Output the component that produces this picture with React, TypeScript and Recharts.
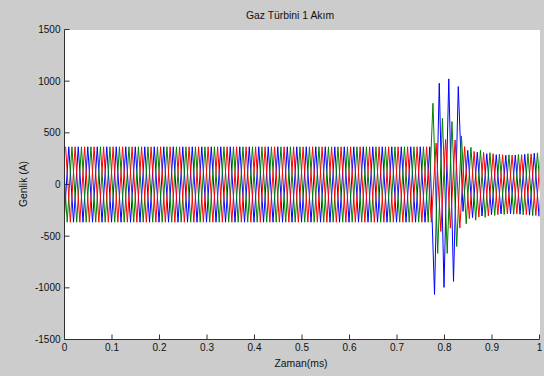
import React from 'react';
import { LineChart, Line, XAxis, YAxis } from 'recharts';

const xTicks = [0, 0.1, 0.2, 0.3, 0.4, 0.5, 0.6, 0.7, 0.8, 0.9, 1];
const yTicks = [-1500, -1000, -500, 0, 500, 1000, 1500];
const titleText = 'Gaz Türbini 1 Akım';
const xLabelText = 'Zaman(ms)';
const yLabelText = 'Genlik (A)';

// Peak magnitudes of each half-cycle (k = -1 .. 100).
const blueMag = [
  365, 365, 365, 365, 365, 365, 365, 365, 365, 365, 365, 365, 365,
  365, 365, 365, 365, 365, 365, 365, 365, 365, 365, 365, 365, 365,
  365, 365, 365, 365, 365, 365, 365, 365, 365, 365, 365, 365, 365,
  365, 365, 365, 365, 365, 365, 365, 365, 365, 365, 365, 365, 365,
  365, 365, 365, 365, 365, 365, 365, 365, 365, 365, 365, 365, 365,
  365, 365, 365, 365, 365, 365, 365, 365, 365, 365, 365, 365, 365,
  1064, 980, 996, 1022, 938, 948, 260, 330,
  320, 312, 305, 298, 292, 288, 285, 283, 283, 285, 288, 292, 297, 302, 307, 312,
];
const greenMag = [
  365, 365, 365, 365, 365, 365, 365, 365, 365, 365, 365, 365, 365,
  365, 365, 365, 365, 365, 365, 365, 365, 365, 365, 365, 365, 365,
  365, 365, 365, 365, 365, 365, 365, 365, 365, 365, 365, 365, 365,
  365, 365, 365, 365, 365, 365, 365, 365, 365, 365, 365, 365, 365,
  365, 365, 365, 365, 365, 365, 365, 365, 365, 365, 365, 365, 365,
  365, 365, 365, 365, 365, 365, 365, 365, 365, 365, 365, 365, 365,
  786, 667, 641, 667, 609, 600, 470, 380,
  360, 345, 330, 318, 308, 300, 294, 290, 288, 288, 290, 294, 298, 302, 306, 310,
];
const redMag = [
  365, 365, 365, 365, 365, 365, 365, 365, 365, 365, 365, 365, 365,
  365, 365, 365, 365, 365, 365, 365, 365, 365, 365, 365, 365, 365,
  365, 365, 365, 365, 365, 365, 365, 365, 365, 365, 365, 365, 365,
  365, 365, 365, 365, 365, 365, 365, 365, 365, 365, 365, 365, 365,
  365, 365, 365, 365, 365, 365, 365, 365, 365, 365, 365, 365, 365,
  365, 365, 365, 365, 365, 365, 365, 365, 365, 365, 365, 365, 365,
  400, 455, 435, 423, 430, 420, 367, 330,
  320, 315, 310, 304, 298, 292, 288, 285, 284, 285, 288, 292, 296, 300, 305, 310,
];

const FIRST_K = -1;
const FIRST_PEAK = 0.009;
const HALF_PERIOD = 0.01;
const PHASE_SHIFT = 0.01 / 3;

function buildSeries(mags: number[], shift: number, flip: number) {
  return mags.map((m, i) => {
    const k = FIRST_K + i;
    const sign = Math.abs(k) % 2 === 0 ? 1 : -1;
    return { t: FIRST_PEAK + HALF_PERIOD * k + shift, v: flip * sign * m };
  });
}

const blueData = buildSeries(blueMag, 0, 1);
const greenData = buildSeries(greenMag, -PHASE_SHIFT, -1);
const redData = buildSeries(redMag, PHASE_SHIFT, -1);

const FONT = "'Liberation Sans', Arial, Helvetica, sans-serif";
const AXIS = '#303030';
const W = 544;
const H = 376;

export default function App() {
  const tickStyle = { fill: '#111', fontSize: 10, fontFamily: FONT };
  return (
    <div style={{ position: 'absolute', left: 0, top: 0, width: W, height: H, background: '#cccccc', overflow: 'hidden' }}>
      <div style={{ position: 'absolute', left: 64.5, top: 29.5, width: 475, height: 310, background: '#ffffff' }} />
      <div style={{ position: 'absolute', left: 0, top: 0 }}>
        <LineChart width={W} height={H} margin={{ top: 29.5, right: 4.5, bottom: 0, left: 0 }}>
          <XAxis
            xAxisId="b"
            dataKey="t"
            type="number"
            domain={[0, 1]}
            allowDataOverflow
            ticks={xTicks}
            interval={0}
            tickFormatter={(v: number) => String(v)}
            height={36.5}
            tickSize={-5}
            tickMargin={9}
            axisLine={{ stroke: AXIS }}
            tickLine={{ stroke: AXIS }}
            tick={tickStyle}
          />
          <XAxis
            xAxisId="t"
            orientation="top"
            type="number"
            domain={[0, 1]}
            allowDataOverflow
            ticks={xTicks}
            interval={0}
            height={0}
            tickSize={-5}
            axisLine={{ stroke: AXIS }}
            tickLine={{ stroke: AXIS }}
            tick={false}
          />
          <YAxis
            yAxisId="l"
            type="number"
            domain={[-1500, 1500]}
            allowDataOverflow
            ticks={yTicks}
            interval={0}
            width={64.5}
            tickSize={-5}
            tickMargin={9}
            axisLine={{ stroke: AXIS }}
            tickLine={{ stroke: AXIS }}
            tick={tickStyle}
          />
          <YAxis
            yAxisId="r"
            orientation="right"
            type="number"
            domain={[-1500, 1500]}
            allowDataOverflow
            ticks={yTicks}
            interval={0}
            width={0}
            tickSize={-5}
            axisLine={{ stroke: AXIS }}
            tickLine={{ stroke: AXIS }}
            tick={false}
          />
          <Line xAxisId="b" yAxisId="l" data={blueData} dataKey="v" type="linear" stroke="#0000ff" strokeWidth={1} dot={false} activeDot={false} isAnimationActive={false} />
          <Line xAxisId="b" yAxisId="l" data={greenData} dataKey="v" type="linear" stroke="#008000" strokeWidth={1} dot={false} activeDot={false} isAnimationActive={false} />
          <Line xAxisId="b" yAxisId="l" data={redData} dataKey="v" type="linear" stroke="#ff0000" strokeWidth={1} dot={false} activeDot={false} isAnimationActive={false} />
        </LineChart>
      </div>
      <svg width={W} height={H} style={{ position: 'absolute', left: 0, top: 0, pointerEvents: 'none' }}>
        <text x={290} y={19} textAnchor="middle" fontSize={10.4} fontFamily={FONT} fill="#111">{titleText}</text>
        <text x={301} y={367} textAnchor="middle" fontSize={10.4} fontFamily={FONT} fill="#111">{xLabelText}</text>
        <text x={27} y={184} textAnchor="middle" fontSize={10.4} fontFamily={FONT} fill="#111" transform="rotate(-90 27 184)">{yLabelText}</text>
      </svg>
    </div>
  );
}
